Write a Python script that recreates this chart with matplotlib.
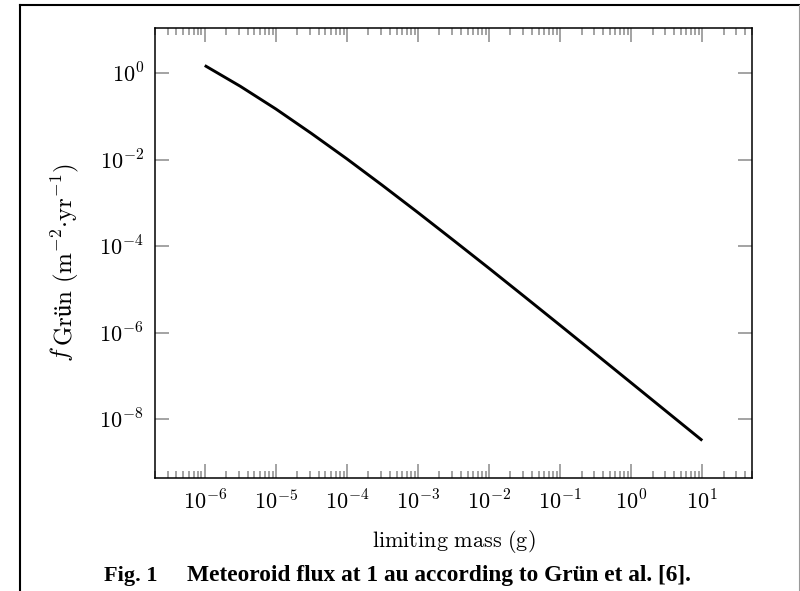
import numpy as np
import matplotlib

matplotlib.use("Agg")
import matplotlib.pyplot as plt
from matplotlib.lines import Line2D
from matplotlib.ticker import FixedLocator, FuncFormatter, LogLocator, NullLocator

# limiting mass (g) and flux, half-decade steps
mass_g = [1e-6, 3.16e-6, 1e-5, 3.16e-5, 1e-4, 3.16e-4, 1e-3, 3.16e-3,
          1e-2, 3.16e-2, 1e-1, 3.16e-1, 1e0, 3.16e0, 1e1]
flux = [1.48, 0.491, 0.147, 0.0401, 0.01035, 2.53e-3, 5.96e-4, 1.365e-4,
        3.08e-5, 6.81e-6, 1.49e-6, 3.24e-7, 7.0e-8, 1.51e-8, 3.26e-9]

x_ticks = [1e-6, 1e-5, 1e-4, 1e-3, 1e-2, 1e-1, 1e0, 1e1]
y_ticks = [1e-8, 1e-6, 1e-4, 1e-2, 1e0]

TICK = "#8a8a8a"
W, H = 800, 591

plt.rcParams["mathtext.fontset"] = "cm"
plt.rcParams["font.family"] = "DejaVu Serif"

fig = plt.figure(figsize=(W / 100, H / 100), dpi=100, facecolor="white")
ax = fig.add_axes([155 / W, 1 - 478 / H, 597 / W, 450 / H])

ax.set_xscale("log")
ax.set_yscale("log")
ax.plot(mass_g, flux, color="black", linewidth=2.1, solid_capstyle="butt")


# pgfplots-style enlarged limits (10% of the data range on each side, in log)
def enlarged(lo, hi, frac=0.1):
    a, b = np.log10(lo), np.log10(hi)
    pad = (b - a) * frac
    return 10 ** (a - pad), 10 ** (b + pad)


ax.set_xlim(*enlarged(min(mass_g), max(mass_g)))
ax.set_ylim(*enlarged(min(flux), max(flux)))

ax.xaxis.set_major_locator(FixedLocator(x_ticks))
ax.xaxis.set_minor_locator(LogLocator(base=10, subs=range(2, 10), numticks=30))
ax.yaxis.set_major_locator(FixedLocator(y_ticks))
ax.yaxis.set_minor_locator(NullLocator())

fmt = FuncFormatter(lambda v, _: r"$10^{%d}$" % round(np.log10(v)))
ax.xaxis.set_major_formatter(fmt)
ax.yaxis.set_major_formatter(fmt)

ax.tick_params(which="both", direction="in", top=True, right=True,
               color=TICK, width=1.1, labelsize=16)
ax.tick_params(which="major", length=10)
ax.tick_params(which="minor", length=5)
ax.tick_params(axis="x", pad=9)
ax.tick_params(axis="y", pad=8)
for s in ax.spines.values():
    s.set_linewidth(1.1)
    s.set_color("black")

ax.set_xlabel(r"$\mathrm{limiting\ mass\ (g)}$", fontsize=16, labelpad=10)

# y label: italic f with a full-size, slightly lowered "Grün" (as in the source)
ylab = dict(rotation=90, rotation_mode="anchor", ha="left", va="baseline",
            fontsize=18)
fig.text(68 / W, 1 - 362 / H, r"$f$", **ylab)
fig.text(72 / W, 1 - 346 / H,
         r"$\mathrm{Grün}\ (\mathrm{m}^{-2}{\cdot}\mathrm{yr}^{-1})$", **ylab)

# caption
cap = dict(family="Liberation Serif", weight="bold", va="baseline", ha="left")
fig.text(104 / W, 1 - 581 / H, "Fig. 1", fontsize=16, **cap)
fig.text(187 / W, 1 - 581 / H,
         "Meteoroid flux at 1 au according to Grün et al. [6].",
         fontsize=16.8, **cap)

# page frame around the figure
fig.add_artist(Line2D([19.5 / W, 19.5 / W], [0, 1 - 5 / H],
                      transform=fig.transFigure, color="black", lw=1.5))
fig.add_artist(Line2D([19.5 / W, 799 / W], [1 - 5 / H, 1 - 5 / H],
                      transform=fig.transFigure, color="black", lw=1.5))
fig.add_artist(Line2D([799 / W, 799 / W], [0, 1 - 5 / H],
                      transform=fig.transFigure, color="#9a9a9a", lw=0.8))

fig.savefig("out.png", dpi=100, facecolor="white")
